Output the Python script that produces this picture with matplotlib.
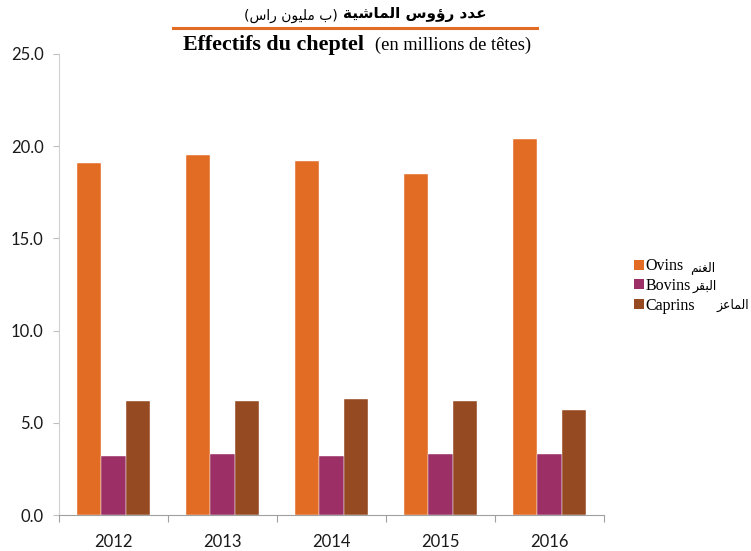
import numpy as np
import matplotlib
matplotlib.use("Agg")
import matplotlib.pyplot as plt
from matplotlib.patches import Patch
from matplotlib.lines import Line2D

years = ["2012", "2013", "2014", "2015", "2016"]
ovins = [19.1, 19.5, 19.2, 18.5, 20.4]
bovins = [3.2, 3.3, 3.2, 3.3, 3.3]
caprins = [6.2, 6.2, 6.3, 6.2, 5.7]

series_fr = ["Ovins", "Bovins", "Caprins"]
series_ar = ["الغنم", "البقر", "الماعز"]
colors = ["#E36C24", "#9B2F66", "#954A22"]

title_ar_bold = "عدد رؤوس الماشية"
title_ar_unit = "(ب مليون راس)"

# matplotlib has no arabic shaping: pick presentation forms by hand
# letter: (isolated, final, initial, medial); 2-tuple = joins only to the right
FORMS = {
    "ا": (0xFE8D, 0xFE8E), "ة": (0xFE93, 0xFE94), "د": (0xFEA9, 0xFEAA),
    "ر": (0xFEAD, 0xFEAE), "ز": (0xFEAF, 0xFEB0), "و": (0xFEED, 0xFEEE),
    "ؤ": (0xFE85, 0xFE86),
    "ب": (0xFE8F, 0xFE90, 0xFE91, 0xFE92), "س": (0xFEB1, 0xFEB2, 0xFEB3, 0xFEB4),
    "ش": (0xFEB5, 0xFEB6, 0xFEB7, 0xFEB8), "ع": (0xFEC9, 0xFECA, 0xFECB, 0xFECC),
    "غ": (0xFECD, 0xFECE, 0xFECF, 0xFED0), "ق": (0xFED5, 0xFED6, 0xFED7, 0xFED8),
    "ل": (0xFEDD, 0xFEDE, 0xFEDF, 0xFEE0), "م": (0xFEE1, 0xFEE2, 0xFEE3, 0xFEE4),
    "ن": (0xFEE5, 0xFEE6, 0xFEE7, 0xFEE8), "ي": (0xFEF1, 0xFEF2, 0xFEF3, 0xFEF4),
}


def shape_ar(text):
    out = []
    for i, ch in enumerate(text):
        if ch not in FORMS:
            out.append(ch)
            continue
        prev = text[i - 1] if i > 0 else ""
        nxt = text[i + 1] if i + 1 < len(text) else ""
        join_prev = prev in FORMS and len(FORMS[prev]) == 4
        join_next = nxt in FORMS and len(FORMS[ch]) == 4
        f = FORMS[ch]
        if join_prev and join_next:
            out.append(chr(f[3]))
        elif join_prev:
            out.append(chr(f[1]))
        elif join_next:
            out.append(chr(f[2]))
        else:
            out.append(chr(f[0]))
    vis = "".join(reversed(out))
    return vis.translate(str.maketrans("()", ")("))


W, H = 751, 551
fig = plt.figure(figsize=(W / 100, H / 100), dpi=100)
ax = fig.add_axes([59 / W, 1 - 515 / H, 545 / W, 461 / H])

x = np.arange(len(years))
w = 0.224
for i, (vals, c) in enumerate(zip([ovins, bovins, caprins], colors)):
    ax.bar(x + (i - 1) * w, vals, width=w, color=c, edgecolor="white", linewidth=0.3)

ax.set_xlim(-0.5, len(years) - 0.5)
ax.set_ylim(0, 25)
yt = np.arange(0, 25.1, 5)
ax.set_yticks(yt, labels=[f"{v:.1f}" for v in yt])
ax.set_xticks(np.arange(-0.5, len(years)), labels=[""] * (len(years) + 1))
ax.set_xticks(x, labels=years, minor=True)

for lab in ax.get_yticklabels() + ax.get_xticklabels(minor=True):
    lab.set_fontfamily("Lato")
    lab.set_fontsize(12)
    lab.set_color("#1a1a1a")

ax.tick_params(axis="y", length=4, color="#bfbfbf", pad=7)
ax.tick_params(axis="x", which="major", length=5, color="#a0a0a0")
ax.tick_params(axis="x", which="minor", length=0, pad=14)
for s in ["top", "right"]:
    ax.spines[s].set_visible(False)
ax.spines["left"].set_color("#d0d0d0")
ax.spines["bottom"].set_color("#a0a0a0")

# titles
fig.text(343 / W, 1 - 15 / H, shape_ar(title_ar_bold), ha="left", va="center",
         fontsize=11, fontweight="bold", family="DejaVu Sans")
fig.text(338 / W, 1 - 16 / H, shape_ar(title_ar_unit), ha="right", va="center",
         fontsize=10, family="DejaVu Sans")
fig.add_artist(Line2D([173 / W, 537 / W], [0.949, 0.949], color="#E36C24", lw=2.2))
fig.text(183 / W, 0.918, "Effectifs du cheptel", ha="left", va="center",
         fontsize=15.8, fontweight="bold", family="Liberation Serif")
fig.text(375 / W, 0.918, "(en millions de têtes)", ha="left", va="center",
         fontsize=13.3, family="Liberation Serif")

handles = [Patch(facecolor=c) for c in colors]
fig.legend(handles, series_fr, loc="center left", bbox_to_anchor=(620 / W, 1 - 286 / H),
           frameon=False, handlelength=0.6, handleheight=0.6, handletextpad=0.1,
           labelspacing=0.22, prop={"family": "Liberation Serif", "size": 11.5})

ar_pos = [(690, 271), (692, 290), (717, 309)]
for ar, (px, py) in zip(series_ar, ar_pos):
    fig.text(px / W, 1 - py / H, shape_ar(ar), ha="left", va="baseline",
             fontsize=9, family="DejaVu Sans")

fig.savefig("out.png", dpi=100)
